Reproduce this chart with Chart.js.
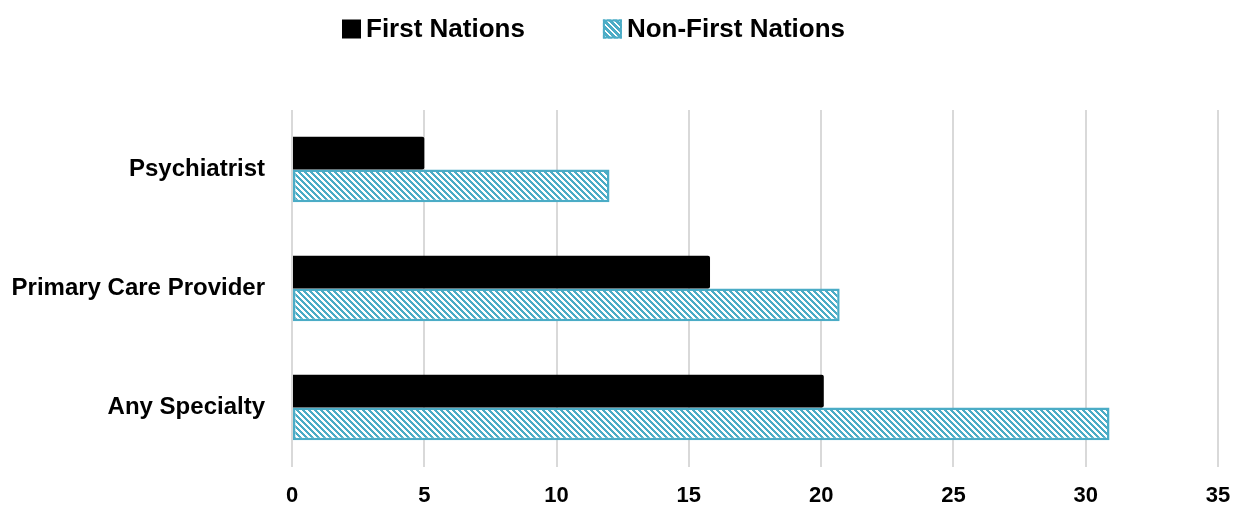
<!DOCTYPE html>
<html>
<head>
<meta charset="utf-8">
<script src="https://cdn.jsdelivr.net/npm/chart.js@4"></script>
<style>
  html, body { margin: 0; padding: 0; background: #fff; }
  #wrap { width: 1235px; height: 512px; }
</style>
</head>
<body>
<div id="wrap"><canvas id="referralChart" width="1235" height="512"></canvas></div>
<script>
// Categories and series
const categories = ['Psychiatrist', 'Primary Care Provider', 'Any Specialty'];
const firstNations = [5.0, 15.8, 20.1];
const nonFirstNations = [12.0, 20.7, 30.9];
const xTicks = [0, 5, 10, 15, 20, 25, 30, 35];

const TEAL = '#4BACC6';

// Prefer a narrow bold face; fall back to regular widths if it is missing
const probe = document.createElement('canvas').getContext('2d');
probe.font = "bold 29px 'Liberation Sans Narrow', monospace";
const narrowOk = probe.measureText('Psychiatrist').width < 150;
const FONT = narrowOk ? "'Liberation Sans Narrow', 'Arial Narrow', sans-serif"
                      : "'Liberation Sans', Arial, sans-serif";
const SIZES = narrowOk ? { legend: 31, y: 29, x: 26 } : { legend: 26, y: 24, x: 22 };

// Pixel "\" hatch: teal runs of `on` px out of every `size` px
function makeHatch(on, fg, bg) {
  const size = 6;
  const c = document.createElement('canvas');
  c.width = size;
  c.height = size;
  const g = c.getContext('2d');
  g.fillStyle = bg;
  g.fillRect(0, 0, size, size);
  g.fillStyle = fg;
  for (let y = 0; y < size; y++) {
    for (let x = 0; x < size; x++) {
      if (((x - y) % size + size) % size < on) g.fillRect(x, y, 1, 1);
    }
  }
  return g.createPattern(c, 'repeat');
}

const ctx = document.getElementById('referralChart').getContext('2d');
const hatch = makeHatch(3, TEAL, '#fff');
const legendHatch = makeHatch(4, TEAL, '#fff');

// Legend drawn on the canvas, laid out left to right from a fixed start
const legendPlugin = {
  id: 'topLegend',
  afterDraw(chart) {
    const c = chart.ctx;
    c.save();
    c.font = 'bold ' + SIZES.legend + 'px ' + FONT;
    c.textBaseline = 'middle';
    c.textAlign = 'left';
    let x = 342;
    const cy = 29;
    chart.data.datasets.forEach((ds) => {
      const box = 19;
      c.fillStyle = ds.legendFill;
      c.fillRect(x, cy - box / 2, box, box);
      if (ds.borderWidth) {
        c.strokeStyle = ds.borderColor;
        c.lineWidth = 2;
        c.strokeRect(x + 1, cy - box / 2 + 1, box - 2, box - 2);
      }
      x += box + 5;
      c.fillStyle = '#000';
      c.fillText(ds.label, x, cy + 1);
      x += c.measureText(ds.label).width + 78;
    });
    c.restore();
  }
};

new Chart(ctx, {
  type: 'bar',
  data: {
    labels: categories,
    datasets: [
      {
        label: 'First Nations',
        data: firstNations,
        backgroundColor: '#000',
        legendFill: '#000',
        borderWidth: 0,
        borderRadius: 2,
        borderSkipped: 'left'
      },
      {
        label: 'Non-First Nations',
        data: nonFirstNations,
        backgroundColor: hatch,
        legendFill: legendHatch,
        borderColor: TEAL,
        borderWidth: 2.5,
        borderSkipped: false
      }
    ]
  },
  options: {
    indexAxis: 'y',
    responsive: false,
    animation: false,
    layout: { padding: { top: 110, right: 17, left: 0, bottom: 0 } },
    datasets: {
      bar: { categoryPercentage: 0.55, barPercentage: 1.0 }
    },
    plugins: {
      legend: { display: false },
      tooltip: { enabled: false }
    },
    scales: {
      x: {
        min: 0,
        max: 35,
        afterBuildTicks(scale) {
          scale.ticks = xTicks.map(v => ({ value: v }));
        },
        afterFit(scale) {
          scale.height = 45;
          scale.paddingLeft = 0;
          scale.paddingRight = 0;
        },
        grid: { color: '#d9d9d9', lineWidth: 2, drawTicks: false },
        border: { display: false },
        ticks: {
          color: '#000',
          padding: 16,
          font: { family: FONT, size: SIZES.x, weight: 'bold' }
        }
      },
      y: {
        afterFit(scale) { scale.width = 292; },
        grid: { display: false, drawTicks: false },
        border: { display: false },
        ticks: {
          color: '#000',
          padding: 27,
          font: { family: FONT, size: SIZES.y, weight: 'bold' }
        }
      }
    }
  },
  plugins: [legendPlugin]
});
</script>
</body>
</html>
